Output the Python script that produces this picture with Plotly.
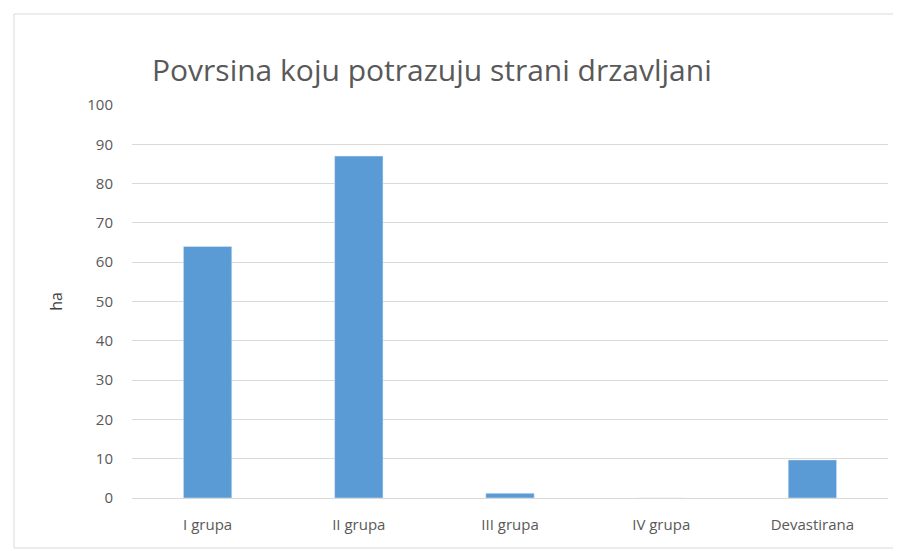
import plotly.graph_objects as go

categories = ["I grupa", "II grupa", "III grupa", "IV grupa", "Devastirana"]
values = [64, 87, 1.2, 0, 9.7]
y_ticks = [0, 10, 20, 30, 40, 50, 60, 70, 80, 90, 100]

fig = go.Figure()
fig.add_trace(go.Bar(x=categories, y=values, marker_color="#5B9BD5", width=0.32))

font_family = "Open Sans, sans-serif"
W, H = 893, 543
fig.update_layout(
    width=W, height=H,
    paper_bgcolor="white", plot_bgcolor="white",
    margin=dict(l=124, r=13, t=97, b=53),
    title=dict(text="Povrsina koju potrazuju strani drzavljani",
               x=144/W, xanchor="left", y=1-62/H, yanchor="middle",
               font=dict(family="Open Sans, sans-serif", size=30, color="#595959")),
    showlegend=False,
    xaxis=dict(showgrid=False, showline=True, linecolor="#D9D9D9", linewidth=1,
               ticks="", ticklabelstandoff=13,
               tickfont=dict(family=font_family, size=15, color="#595959")),
    yaxis=dict(range=[0, 100], tickvals=y_ticks, showgrid=True, gridcolor="#D9D9D9",
               gridwidth=1, zeroline=False, ticks="", ticklabelstandoff=18,
               tickfont=dict(family=font_family, size=15, color="#595959"),
               title=dict(text="ha", standoff=20,
                          font=dict(family=font_family, size=16, color="#404040"))),
    shapes=[dict(type="rect", xref="paper", yref="paper",
                 x0=-118/756, x1=1+10/756, y0=-50/393, y1=1+91/393,
                 line=dict(color="#D9D9D9", width=1))],
)
fig.write_html("out.html")
